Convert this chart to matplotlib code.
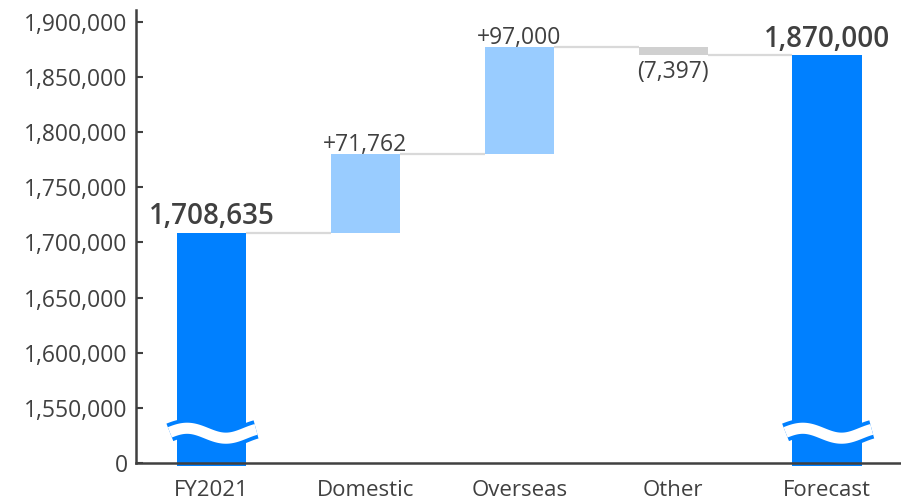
import matplotlib.pyplot as plt
import numpy as np

# -------data-------
categories = ['FY2021', 'Domestic', 'Overseas', 'Other', 'Forecast']
start_value = 1708635
changes = [71762, 97000, -7397]
end_value = 1870000
change_labels = ['+71,762', '+97,000', '(7,397)']
y_ticks = [1500000, 1550000, 1600000, 1650000, 1700000, 1750000, 1800000, 1850000, 1900000]
y_tick_labels = ['0', '1,550,000', '1,600,000', '1,650,000', '1,700,000',
                 '1,750,000', '1,800,000', '1,850,000', '1,900,000']
base = 1500000  # axis is broken: everything below this is collapsed onto "0"

# -------style-------
plt.rcParams['font.family'] = ['Open Sans', 'DejaVu Sans']
blue = '#0080FF'
light_blue = '#99CCFF'
gray = '#D0D0D0'
line_gray = '#D9D9D9'
text_color = '#404040'
font_size = 16.5
bar_width = 0.45

fig = plt.figure(figsize=(9.01, 4.98), dpi=100)
ax = fig.add_axes([136 / 901, 35 / 498, 1 - 136 / 901, 453 / 498])

x = np.arange(len(categories))

# running totals for the floating bars
levels = [start_value]
for c in changes:
    levels.append(levels[-1] + c)

# total bars, drawn from the (broken) bottom
for xi, val in [(x[0], start_value), (x[-1], end_value)]:
    ax.bar(xi, val - base + 2500, bottom=-2500, width=bar_width, color=blue, clip_on=False, zorder=2)

# floating change bars
change_colors = [light_blue, light_blue, gray]
for i, c in enumerate(changes):
    lo = min(levels[i], levels[i + 1]) - base
    ax.bar(x[i + 1], abs(c), bottom=lo, width=bar_width, color=change_colors[i], zorder=2)

# connector lines between neighbouring bars
connect = [start_value, levels[1], levels[2], levels[3]]
for i, val in enumerate(connect):
    ax.plot([x[i] + bar_width / 2, x[i + 1] - bar_width / 2], [val - base, val - base],
            color=line_gray, lw=1.6, zorder=1, solid_capstyle='butt')

# break marks on the total bars
t = np.linspace(0, 1, 100)
for xi in (x[0], x[-1]):
    wx = xi - 0.27 + t * 0.56
    wy = 27000 + 4500 * np.cos(2 * np.pi * (t - 0.2) / 0.9)
    ax.plot(wx, wy, color=blue, lw=13.5, solid_capstyle='butt', zorder=3, clip_on=False)
    ax.plot(wx, wy, color='white', lw=8, solid_capstyle='butt', zorder=4, clip_on=False)

# value labels
ax.annotate('1,708,635', (x[0], start_value - base), xytext=(0, 1), textcoords='offset points',
            ha='center', va='bottom', fontsize=20, fontweight='semibold', color=text_color)
ax.annotate('1,870,000', (x[-1], end_value - base), xytext=(0, 1), textcoords='offset points',
            ha='center', va='bottom', fontsize=20, fontweight='semibold', color=text_color)
for i, c in enumerate(changes):
    top = max(levels[i], levels[i + 1]) - base
    bot = min(levels[i], levels[i + 1]) - base
    if c > 0:
        ax.annotate(change_labels[i], (x[i + 1], top), xytext=(0, -2), textcoords='offset points',
                    ha='center', va='bottom', fontsize=font_size, color=text_color)
    else:
        ax.annotate(change_labels[i], (x[i + 1], bot), xytext=(0, -4), textcoords='offset points',
                    ha='center', va='top', fontsize=font_size, color=text_color)

# -------axes-------
ax.set_xlim(-0.49, 4.48)
ax.set_ylim(0, 410700)
ax.set_yticks(np.array(y_ticks) - base)
ax.set_yticklabels(y_tick_labels, fontsize=font_size, color=text_color)
ax.set_xticks(x)
ax.set_xticklabels(categories, fontsize=font_size - 0.5, color=text_color)
ax.tick_params(axis='y', direction='in', length=5, width=1.5, color=text_color, pad=6)
ax.tick_params(axis='x', length=0, pad=12)
for side in ['top', 'right']:
    ax.spines[side].set_visible(False)
for side in ['left', 'bottom']:
    ax.spines[side].set_color(text_color)
    ax.spines[side].set_linewidth(1.8)

plt.savefig('out.png', dpi=100)
